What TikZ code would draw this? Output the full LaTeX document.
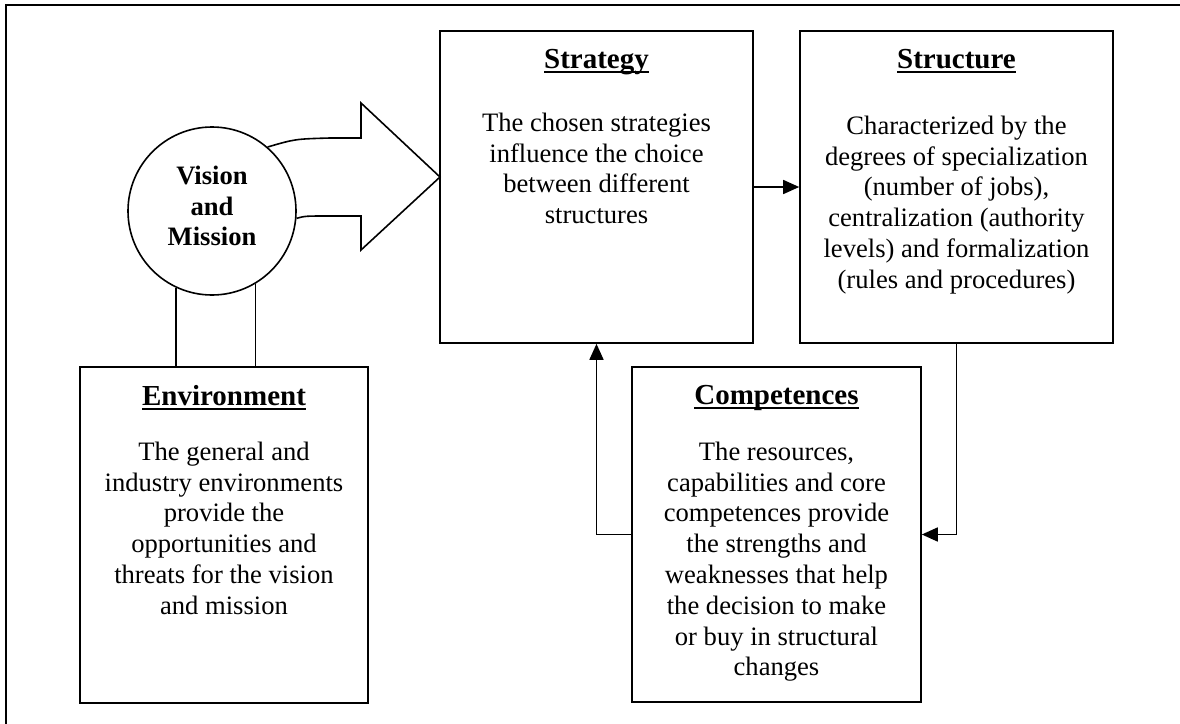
\documentclass[tikz,border=0pt]{standalone}
\usepackage{fontspec}
\setmainfont{Liberation Serif}
\usetikzlibrary{arrows.meta}
\newcommand{\boxhead}[1]{\setbox0\hbox{\bfseries\fontsize{14.5}{16}\selectfont #1}\rlap{\rule[-2.4pt]{\wd0}{0.8pt}}\box0}
\begin{document}
\begin{tikzpicture}[x=0.5pt,y=-0.5pt,line width=0.8pt,
    box/.style={draw,rectangle,inner sep=0pt},
    head/.style={anchor=base,inner sep=0pt},
    txt/.style={anchor=north,inner sep=0pt,align=center,font=\fontsize{13.3}{15.4}\selectfont},
    link/.style={-{Triangle[length=8pt,width=7pt]}}]
    \useasboundingbox (0,0) rectangle (1180,724);
    \clip (0,0) rectangle (1180,724);
    \draw[line width=0.9pt] (6,5) rectangle (1200,760);
    % boxes
    \node[box,minimum width=156.5pt,minimum height=156pt] (strat) at (596.5,187) {};
    \node[box,minimum width=156.5pt,minimum height=156pt] (struct) at (956.5,187) {};
    \node[box,minimum width=144.5pt,minimum height=167.5pt] (comp) at (776.5,534.5) {};
    \node[box,minimum width=144pt,minimum height=168pt] (env) at (224,535) {};
    \node[draw,circle,minimum size=84pt,inner sep=0pt] (vm) at (212,211) {};
    \node[align=center,inner sep=0pt,font=\bfseries\fontsize{13.3}{15.4}\selectfont] (vmtext) at (212,206) {Vision\\and\\Mission};
    % headings
    \node[head] (strathead) at (596.5,68) {\boxhead{Strategy}};
    \node[head] (structhead) at (956.5,68) {\boxhead{Structure}};
    \node[head] (envhead) at (224,405) {\boxhead{Environment}};
    \node[head] (comphead) at (776.5,404) {\boxhead{Competences}};
    % texts
    \node[txt] (strattext) at (596.5,112) {The chosen strategies\\influence the choice\\between different\\structures};
    \node[txt] (structtext) at (956.5,115) {Characterized by the\\degrees of specialization\\(number of jobs),\\centralization (authority\\levels) and formalization\\(rules and procedures)};
    \node[txt] (envtext) at (224,441) {The general and\\industry environments\\provide the\\opportunities and\\threats for the vision\\and mission};
    \node[txt] (comptext) at (776.5,441) {The resources,\\capabilities and core\\competences provide\\the strengths and\\weaknesses that help\\the decision to make\\or buy in structural\\changes};
    % links
    \draw[link] (strat.east) -- (struct.west);
    \draw[link] (struct.south) |- (comp.east);
    \draw[link] (comp.west) -| (strat.south);
    \draw (vm.-115.4) -- (vm.-115.4 |- env.north);
    \draw (vm.-59.2) -- (vm.-59.2 |- env.north);
    % big arrow
    \draw (vm.49) .. controls (295,139) .. (330,138) -- (361,138) -- (361,103) -- (440,177)
      -- (361,250) -- (361,216) -- (330,216) .. controls (305,216) .. (vm.-5);
\end{tikzpicture}
\end{document}
